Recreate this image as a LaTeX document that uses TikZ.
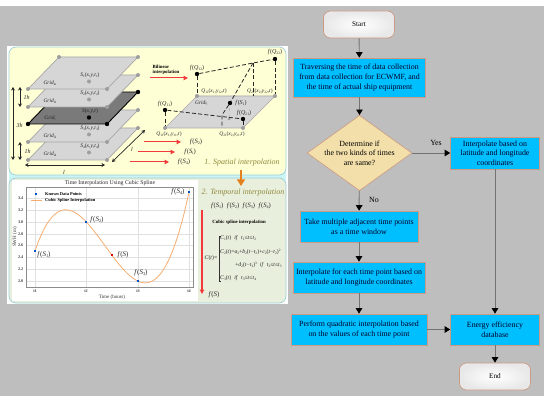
\documentclass[tikz,border=0pt]{standalone}
\usepackage{fontspec}
\setmainfont{Liberation Serif}
\usetikzlibrary{shapes.geometric,arrows.meta,shadings}
\definecolor{bggrey}{HTML}{BEBEBE}
\definecolor{boxblue}{HTML}{00BFFF}
\definecolor{boxedge}{HTML}{CC9A84}
\definecolor{diafill}{HTML}{F3DFAA}
\definecolor{yellowp}{HTML}{FFFFD6}
\definecolor{greenp}{HTML}{E9EFDD}
\definecolor{panedge}{HTML}{9CCFD8}
\definecolor{cyanband}{HTML}{CCF5F5}
\definecolor{planefill}{HTML}{D6D6D6}
\definecolor{planedark}{HTML}{7A7A7A}
\definecolor{spline}{HTML}{F6AE70}
\definecolor{arrowred}{HTML}{F23A3A}
\definecolor{olivetext}{HTML}{8F8A3A}
\definecolor{orangey}{HTML}{E5801E}
\newcommand{\sbs}[1]{\raisebox{-.3ex}{\scalebox{.62}{#1}}}
\newcommand{\sps}[1]{\raisebox{.6ex}{\scalebox{.62}{#1}}}
\newcommand{\fv}[1]{\textit{f}(\textit{S}\sbs{#1})}
\newcommand{\fq}[1]{\textit{f}(\textit{Q}\sbs{#1})}
\newcommand{\qv}[2]{\textit{Q}\sbs{#1}(\textit{x}\sbs{#2},\textit{y}\sbs{#1},\textit{t})}
\newcommand{\sv}[1]{\textit{S}\sbs{#1}(\textit{x},\textit{y},\textit{t}\sbs{#1})}
\newcommand{\grd}[1]{\textit{Grid}\sbs{#1}}
\tikzset{
 flowbox/.style={draw=boxedge,line width=.6pt,fill=boxblue,inner sep=0pt,align=center,font=\fontsize{7.9}{9.6}\selectfont,text=black!85!blue},
 termbox/.style={draw=boxedge,line width=.7pt,rounded corners=7pt,inner color=white,outer color=black!9,inner sep=0pt,align=center,font=\fontsize{7.2}{9}\selectfont},
 decide/.style={diamond,aspect=1.39,draw=boxedge,line width=.6pt,fill=diafill,inner sep=0pt,align=center,font=\fontsize{7.9}{9.6}\selectfont},
 flow/.style={draw=black!55,line width=.9pt,-{Triangle[black,length=5.5pt,width=6.5pt]}},
 flowlabel/.style={font=\fontsize{7.9}{9}\selectfont,inner sep=0pt},
 gridplane/.style={draw=black!35,line width=.7pt,fill=planefill},
 pdot/.style={circle,fill=black!38,inner sep=0pt,minimum size=4pt},
 bdot/.style={circle,fill=black,inner sep=0pt,minimum size=4.4pt},
 tiny/.style={font=\fontsize{5.5}{6}\selectfont,inner sep=0pt,text=black!85},
 eqn/.style={font=\fontsize{5.7}{6}\selectfont,inner sep=0pt,text=black!85},
 gridtext/.style={font=\fontsize{5.4}{6}\selectfont,inner sep=0pt,text=black!85},
 fval/.style={font=\fontsize{6}{7}\selectfont,inner sep=0pt,text=black!85},
 cval/.style={font=\fontsize{7}{8}\selectfont,inner sep=0pt,text=black!85},
 dim/.style={black!85,line width=.7pt,{Stealth[length=3.5pt,width=4pt]}-{Stealth[length=3.5pt,width=4pt]}},
 redar/.style={arrowred,line width=1pt,-{Triangle[length=4.5pt,width=4.5pt]}},
 dashline/.style={black!85,line width=.8pt,dash pattern=on 4pt off 2.2pt},
 chartgrid/.style={black!12,line width=.35pt},
 ticktext/.style={font=\fontsize{4.2}{5}\selectfont\bfseries,inner sep=0pt,text=black!75},
 legendtext/.style={font=\fontsize{4.4}{5}\selectfont\bfseries,inner sep=0pt,anchor=west},
 ptmark/.style={rectangle,fill=blue!60!cyan!80!black,inner sep=0pt,minimum size=2pt},
}
\newcommand{\gplane}[6]{% yfront, fill, dotstyle, label, Slabel, Sdot
 \path[gridplane,fill=#2] (28,#1) -- (107,#1) -- (138,#1-32) -- (59,#1-32) -- cycle;
 \node[#3] at (28,#1) {};\node[#3] at (107,#1) {};\node[#3] at (138,#1-32) {};\node[#3] at (59,#1-32) {};
 \node[gridtext] at (50,#1-6) {\grd{#4}};
 \node[tiny] at (90,#1-13.5) {\sv{#5}};
 \node[#6] at (89,#1-7.5) {};}
\begin{document}
\begin{tikzpicture}[x=1pt,y=-1pt]
\useasboundingbox (0,0) rectangle (550,404);
\fill[white] (0,0) rectangle (550,404);
\fill[bggrey] (0,6) rectangle (544,396);
% left panels
\fill[white] (7,46) rectangle (288,304);
\fill[cyanband] (9,170) rectangle (286,182);
\path[fill=yellowp,draw=panedge,line width=.7pt,rounded corners=7pt] (9,47) -- (286,47) -- (286,175) -- (9,175) -- cycle;
\path[fill=greenp,draw=panedge,line width=.7pt,rounded corners=7pt] (9,178) -- (286,178) -- (286,303) -- (9,303) -- cycle;
\fill[white] (12,180) rectangle (198,301);
% stacked planes
\gplane{160}{planefill}{pdot}{i4}{4}{pdot}
\gplane{142}{planefill}{pdot}{i3}{3}{pdot}
\path[draw=black,line width=.9pt,fill=planedark] (28,124) -- (107,124) -- (138,92) -- (59,92) -- cycle;
\foreach \p in {(28,124),(107,124),(138,92)} \node[bdot] at \p {};
\node[gridtext] at (50,118) {\grd{i}};
\node[tiny] at (90,111) {\textit{S}(\textit{x},\textit{y},\textit{t})};
\node[bdot] at (89,117.5) {};
\gplane{107}{planefill}{pdot}{i2}{2}{pdot}
\gplane{89}{planefill}{pdot}{in}{1}{pdot}
\coordinate (h1a) at (20,87);\coordinate (h1b) at (20,107);
\coordinate (h3a) at (13,87);\coordinate (h3b) at (13,160);
\coordinate (h2a) at (20,142);\coordinate (h2b) at (20,160);
\coordinate (la) at (25,165);\coordinate (lb) at (105,165);
\coordinate (lc) at (112,162);\coordinate (ld) at (145,130);
\draw[dim] (h1a) -- (h1b);\draw[dim] (h3a) -- (h3b);\draw[dim] (h2a) -- (h2b);\draw[dim] (la) -- (lb);\draw[dim] (lc) -- (ld);
\node[fval] at (26.5,97.5) {\textit{1h}};\node[fval] at (19.5,125) {\textit{3h}};\node[fval] at (27.5,151) {\textit{1h}};
\node[fval] at (64,172) {\textit{l}};\node[fval] at (132,149) {\textit{l}};
% right plane
\path[gridplane] (165,128) -- (243,128) -- (275,96) -- (197,96) -- cycle;
\coordinate (Q11) at (165,128);\coordinate (Q21) at (243,128);\coordinate (Q12) at (197,96);\coordinate (Q22) at (275,96);
\coordinate (M) at (253,63);\coordinate (MB) at (253,96);\coordinate (Q1M) at (222,128);
\node[pdot] (g1) at (Q11) {};\node[pdot] (g2) at (Q21) {};\node[pdot] (g3) at (Q12) {};\node[pdot] (g4) at (Q22) {};
\node[bdot] (fa) at (197,74) {};\node[bdot] (fb) at (165,110) {};\node[bdot] (fc) at (230,103) {};
\node[bdot] (fd) at (243,119) {};\node[bdot] (fe) at (275,59) {};
\node[pdot,minimum size=3pt] (mid) at (229,119) {};
\draw[dashline] (fa) -- (M) -- (fe);
\draw[dashline] (fb) -- (fd);
\draw[dashline] (fa) -- (g3);\draw[dashline] (fb) -- (g1);\draw[dashline] (fd) -- (g2);\draw[dashline] (fe) -- (g4);
\draw[dashline] (M) -- (MB);\draw[dashline] (M) -- (fc) -- (222,115) -- (Q1M);
\draw[black!40,line width=.4pt,dashed] (mid) -- (fc);
\node[gridtext,anchor=west] at (195,103) {\grd{ij}};
\node[tiny] at (214,91) {\qv{12}{1}};
\node[tiny,anchor=west] at (247,91) {\qv{22}{2}};
\node[tiny] at (169,134) {\qv{11}{1}};
\node[tiny] at (232,134) {\qv{21}{2}};
\node[fval] at (197,68) {\fq{12}};
\node[fval] at (165,104) {\fq{11}};
\node[fval] at (241,103.5) {\fv{1}};
\node[fval] at (244,113) {\fq{21}};
\node[fval] at (275,52) {\fq{22}};
\node[font=\fontsize{4.8}{5.6}\selectfont\bfseries,align=left,inner sep=0pt] (bil) at (166,70) {Bilinear\\interpolation};
\coordinate (b1) at (150,78);\coordinate (b2) at (188,78);
\draw[redar] (b1) -- (b2);
\foreach \a/\b/\yy/\t/\tx in {144/181/142/2/196,138/175/152/i/190,130/169/162/4/184}{
 \draw[redar] (\a,\yy) -- (\b,\yy);
 \node[fval,font=\fontsize{6.6}{7}\selectfont] at (\tx,\yy) {\fv{\t}};}
\node[font=\fontsize{8}{9}\selectfont\itshape,text=olivetext,inner sep=0pt] at (242,163) {1. Spatial interpolation};
\coordinate (oa) at (241,170);\coordinate (ob) at (241,186);
\draw[orangey,line width=1.2pt,-{Triangle[length=6.5pt,width=8pt]}] (oa) -- (ob);
% chart
\node[font=\fontsize{5.8}{6}\selectfont,inner sep=0pt,text=black!85] at (110,183.5) {Time Interpolation Using Cubic Spline};
\foreach \v in {198.5,210.3,222,233.7,245.5,257,269,280.7} \draw[chartgrid] (26,\v) -- (193,\v);
\foreach \v in {35,86,138,189} \draw[chartgrid] (\v,187) -- (\v,287);
\draw[black!45,line width=.4pt] (26,187) rectangle (193,287);
\foreach \v/\t in {198.5/3.4,210.3/3.2,222/3.0,233.7/2.8,245.5/2.6,257/2.4,269/2.2,280.7/2.0} \node[ticktext,anchor=east] at (23.5,\v) {\t};
\foreach \v/\t in {35/t1,86/t2,138/t3,189/t4} \node[ticktext] at (\v,291.5) {\t};
\node[font=\fontsize{5}{6}\selectfont,inner sep=0pt,rotate=90,text=black!80] at (15,237) {SWH (m)};
\node[font=\fontsize{5}{6}\selectfont,inner sep=0pt,text=black!80] at (112,297) {Time (hours)};
\draw[spline,line width=.8pt] plot[domain=0:3,samples=90,smooth] ({35+51.33*\x},{251-29*\x+44*\x*(\x-1)-39.33*\x*(\x-1)*(\x-2)});
\node[ptmark] at (35,251) {};\node[ptmark] at (86,222) {};\node[ptmark] at (138,281) {};\node[ptmark] at (189,192) {};
\node[rectangle,fill=red!85!black,inner sep=0pt,minimum size=2.2pt] at (112,255) {};
\node[ptmark] at (36,194) {};
\draw[spline,line width=.8pt] (31,200) -- (42,200);
\node[legendtext] at (45,194) {Known Data Points};
\node[legendtext] at (45,200) {Cubic Spline Interpolation};
\node[cval] at (44,255) {\fv{1}};
\node[cval] at (97,220) {\fv{2}};
\node[cval] at (123,255) {\textit{f}(\textit{S})};
\node[cval] at (141,273) {\fv{3}};
\node[cval] at (178,192) {\fv{4}};
% temporal
\node[font=\fontsize{8}{9}\selectfont\itshape,text=olivetext,inner sep=0pt] at (243,193) {2. Temporal interpolation};
\node[cval,font=\fontsize{6.6}{7}\selectfont] at (241,206) {\fv{1}\; \fv{2}\; \fv{3}\; \fv{4}};
\coordinate (ra) at (202,210);\coordinate (rb) at (202,294);
\draw[redar,line width=1.1pt] (ra) -- (rb);
\node[font=\fontsize{4.8}{5.6}\selectfont\bfseries,inner sep=0pt] at (239,222) {Cubic spline interpolation};
\node[eqn] at (211,258.5) {\textit{C}(\textit{t})=};
\draw[black!80,line width=.5pt] (221,236) -- (219,236) -- (219,281) -- (221,281);
\node[eqn,anchor=west] at (220,238) {\textit{C}\sbs{1}(\textit{t})\; \textit{if}\; \textit{t}\sbs{1}≤\textit{t}≤\textit{t}\sbs{2}};
\node[eqn,anchor=west] at (220,252) {\textit{C}\sbs{2}(\textit{t})=\textit{a}\sbs{2}+\textit{b}\sbs{2}(\textit{t}−\textit{t}\sbs{2})+\textit{c}\sbs{2}(\textit{t}−\textit{t}\sbs{2})\sps{2}};
\node[eqn,anchor=west] at (235,265) {+\textit{d}\sbs{2}(\textit{t}−\textit{t}\sbs{2})\sps{3}\; \textit{if}\; \textit{t}\sbs{2}≤\textit{t}≤\textit{t}\sbs{3}};
\node[eqn,anchor=west] at (220,278) {\textit{C}\sbs{3}(\textit{t})\; \textit{if}\; \textit{t}\sbs{3}≤\textit{t}≤\textit{t}\sbs{4}};
\node[cval] at (214,294.5) {\textit{f}(\textit{S})};
% flowchart
\node[termbox,minimum width=71pt,minimum height=27pt] (start) at (359,24.5) {Start};
\node[flowbox,minimum width=132pt,minimum height=39pt] (b1x) at (359.5,77.5) {Traversing the time of data collection\\from data collection for ECWMF, and\\the time of actual ship equipment};
\node[decide,minimum width=103pt,minimum height=74pt] (dec) at (359.5,153) {Determine if\\the two kinds of times\\are same?};
\node[flowbox,minimum width=89pt,minimum height=32pt] (yes) at (495,153) {Interpolate based on\\latitude and longitude\\coordinates};
\node[flowbox,minimum width=118pt,minimum height=31pt] (win) at (359,226.5) {Take multiple adjacent time points\\as a time window};
\node[flowbox,minimum width=132pt,minimum height=31pt] (each) at (359,277.5) {Interpolate for each time point based on\\latitude and longitude coordinates};
\node[flowbox,minimum width=136pt,minimum height=31pt] (quad) at (359,329.5) {Perform quadratic interpolation based\\on the values of each time point};
\node[flowbox,minimum width=89pt,minimum height=31pt] (db) at (495,329.5) {Energy efficiency\\database};
\node[termbox,minimum width=71pt,minimum height=27pt] (endn) at (495,376.5) {End};
\draw[flow] (start) -- (b1x);
\draw[flow] (b1x) -- (dec);
\draw[flow] (dec) -- (win);
\draw[flow] (dec) -- (yes);
\draw[flow] (win) -- (each);
\draw[flow] (each) -- (quad);
\draw[flow] (quad) -- (db);
\draw[flow] (yes) -- (db);
\draw[flow] (db) -- (endn);
\node[flowlabel] at (436,143) {Yes};
\node[flowlabel] at (374,200) {No};
\end{tikzpicture}
\end{document}
